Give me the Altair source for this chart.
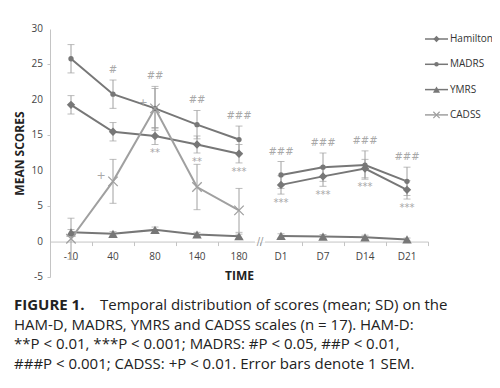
import altair as alt
import pandas as pd

# ---------------- data ----------------
categories = ["-10", "40", "80", "140", "180", "D1", "D7", "D14", "D21"]
segments = ["base", "base", "base", "base", "base", "days", "days", "days", "days"]
series_names = ["Hamilton", "MADRS", "YMRS", "CADSS"]
y_ticks = [-5, 0, 5, 10, 15, 20, 25, 30]

hamilton_mean = [19.3, 15.5, 14.9, 13.7, 12.4, 8.0, 9.2, 10.3, 7.3]
hamilton_sem = [1.3, 1.3, 1.2, 1.2, 1.3, 1.3, 1.4, 1.3, 1.3]
madrs_mean = [25.8, 20.8, 18.8, 16.5, 14.4, 9.4, 10.5, 10.8, 8.5]
madrs_sem = [2.0, 2.0, 3.1, 2.0, 1.9, 1.9, 2.0, 2.0, 2.0]
ymrs_mean = [1.3, 1.1, 1.65, 1.0, 0.75, 0.8, 0.7, 0.6, 0.3]
ymrs_sem = [0.4, 0.3, 0.4, 0.3, 0.3, 0.3, 0.3, 0.3, 0.2]
cadss_mean = [0.4, 8.5, 18.8, 7.7, 4.4]
cadss_sem = [2.9, 3.1, 2.8, 3.2, 3.1]

hamilton_sig = ["", "", "**", "**", "***", "***", "***", "***", "***"]
madrs_sig = ["", "#", "##", "##", "###", "###", "###", "###", "###"]
cadss_sig = ["", "+", "+", "", ""]

caption_head = "FIGURE 1."
caption_first = "Temporal distribution of scores (mean; SD) on the"
caption_lines = [
    "HAM-D, MADRS, YMRS and CADSS scales (n = 17). HAM-D:",
    "**P < 0.01, ***P < 0.001; MADRS: #P < 0.05, ##P < 0.01,",
    "###P < 0.001; CADSS: +P < 0.01. Error bars denote 1 SEM.",
]

# ---------------- build tables ----------------
rows = []
def add(name, means, sems, sigs):
    for i, (m, s) in enumerate(zip(means, sems)):
        rows.append(dict(series=name, idx=i, label=categories[i], seg=segments[i],
                         mean=m, lo=m - s, hi=m + s,
                         sig=(sigs[i] if sigs else "")))
add("Hamilton", hamilton_mean, hamilton_sem, hamilton_sig)
add("MADRS", madrs_mean, madrs_sem, madrs_sig)
add("YMRS", ymrs_mean, ymrs_sem, None)
add("CADSS", cadss_mean, cadss_sem, cadss_sig)
df = pd.DataFrame(rows)

n = len(categories)
cat_df = pd.DataFrame({"idx": list(range(n)), "label": categories, "zero": [0] * n})
ytick_df = pd.DataFrame({"v": y_ticks, "t": [str(v) for v in y_ticks]})

W, H = 378, 248
YMIN, YMAX = y_ticks[0], y_ticks[-1]
FONT = "Open Sans"
LINE_C = "#777777"
LIGHT_C = "#a0a0a0"
AXIS_C = "#c4c4c4"
SIG_C = "#a8a8a8"

xscale = alt.Scale(domain=[-0.5, n - 0.5], nice=False, zero=False)
yscale = alt.Scale(domain=[YMIN, YMAX], nice=False, zero=False)

x_axis = alt.Axis(
    values=[i - 0.5 for i in range(n + 1)], labels=False,
    offset=-H * (0 - YMIN) / (YMAX - YMIN),
    grid=False, domainColor=AXIS_C, tickColor=AXIS_C, tickSize=4,
    title="TIME", titleFont=FONT, titleFontSize=12, titleFontWeight="bold",
    titleColor="#222", titlePadding=24,
)
y_axis = alt.Axis(
    values=y_ticks, labels=False, grid=False,
    domainColor=AXIS_C, tickColor=AXIS_C, tickSize=3,
    title="MEAN SCORES", titleFont=FONT, titleFontSize=12, titleFontWeight="bold",
    titleColor="#222", titlePadding=20,
)

base = alt.Chart(df)
X = alt.X("idx:Q", scale=xscale, axis=x_axis)
Xn = alt.X("idx:Q", scale=xscale)
Y = alt.Y("mean:Q", scale=yscale)

color_scale = alt.Scale(domain=series_names, range=[LINE_C, LINE_C, LINE_C, LIGHT_C])

lines = base.mark_line(strokeWidth=2).encode(
    x=X, y=alt.Y("mean:Q", scale=yscale, axis=y_axis),
    color=alt.Color("series:N", scale=color_scale, legend=None),
    detail="seg:N",
)

# tick labels
xlabels = alt.Chart(cat_df).mark_text(font=FONT, fontSize=10, color="#444",
                                      baseline="middle", dy=15.5).encode(
    x=Xn, y=alt.Y("zero:Q", scale=yscale), text="label:N")
ylabels = alt.Chart(ytick_df).mark_text(font=FONT, fontSize=10, color="#444",
                                        align="right", baseline="middle").encode(
    x=alt.value(-7), y=alt.Y("v:Q", scale=yscale), text="t:N")

bars = base.mark_rule(color=LIGHT_C, strokeWidth=1).encode(
    x=Xn, y=alt.Y("lo:Q", scale=yscale), y2="hi:Q")
cap_lo = base.mark_tick(color=LIGHT_C, orient="horizontal", size=7, thickness=1).encode(
    x=Xn, y=alt.Y("lo:Q", scale=yscale))
cap_hi = base.mark_tick(color=LIGHT_C, orient="horizontal", size=7, thickness=1).encode(
    x=Xn, y=alt.Y("hi:Q", scale=yscale))

X_PATH = "M-1,-1L1,1M-1,1L1,-1"
pts_ham = base.transform_filter("datum.series == 'Hamilton'").mark_point(
    shape="diamond", filled=True, size=70, color=LINE_C, opacity=1).encode(x=Xn, y=Y)
pts_mad = base.transform_filter("datum.series == 'MADRS'").mark_point(
    shape="circle", filled=True, size=28, color=LINE_C, opacity=1).encode(x=Xn, y=Y)
pts_ymr = base.transform_filter("datum.series == 'YMRS'").mark_point(
    shape="triangle-up", filled=True, size=90, color=LINE_C, opacity=1).encode(x=Xn, y=Y)
pts_cad = base.transform_filter("datum.series == 'CADSS'").mark_point(
    shape=X_PATH, filled=False, size=90, strokeWidth=1.3,
    color=LIGHT_C, opacity=1).encode(x=Xn, y=Y)

sig_mad = base.transform_filter("datum.series == 'MADRS'").mark_text(
    font="DejaVu Sans", fontSize=10, color=SIG_C, dy=-10, baseline="middle").encode(
    x=Xn, y=alt.Y("hi:Q", scale=yscale), text="sig:N")
sig_ham = base.transform_filter("datum.series == 'Hamilton'").mark_text(
    font="DejaVu Sans", fontSize=10, color=SIG_C, dy=4, baseline="top").encode(
    x=Xn, y=alt.Y("lo:Q", scale=yscale), text="sig:N")
sig_cad = base.transform_filter("datum.series == 'CADSS'").mark_text(
    font="DejaVu Sans", fontSize=11, color=SIG_C, dx=-12, dy=-5).encode(
    x=Xn, y=Y, text="sig:N")

# axis break marker between the two segments
brk = pd.DataFrame({"pos": [segments.count("base") - 0.5], "v": [0]})
brk_bg = alt.Chart(brk).transform_calculate(
    a="datum.pos - 0.12", b="datum.pos + 0.12", v1="-0.15", v2="0.15").mark_rect(
    color="white").encode(x=alt.X("a:Q", scale=xscale), x2="b:Q",
                          y=alt.Y("v1:Q", scale=yscale), y2="v2:Q")
brk_txt = alt.Chart(brk).mark_text(text="//", font="DejaVu Sans", fontSize=10,
                                   color="#999", baseline="middle").encode(
    x=alt.X("pos:Q", scale=xscale), y=alt.Y("v:Q", scale=yscale))

# legend (drawn by hand at the upper right)
leg_df = pd.DataFrame({"series": series_names})
leg_shapes = {"Hamilton": ("diamond", 40, True), "MADRS": ("circle", 20, True),
              "YMRS": ("triangle-up", 50, True), "CADSS": (X_PATH, 40, False)}
leg_layers = []
for k, name in enumerate(series_names):
    yy = 10 + 25.3 * k
    col = LIGHT_C if name == "CADSS" else LINE_C
    one = alt.Chart(leg_df).transform_filter("datum.series == '%s'" % name)
    leg_layers.append(one.mark_rule(color=col, strokeWidth=1.5).encode(
        x=alt.value(375), x2=alt.value(398), y=alt.value(yy)))
    shp, sz, fl = leg_shapes[name]
    leg_layers.append(one.mark_point(shape=shp, size=sz, filled=fl, color=col, opacity=1,
                                     strokeWidth=1.2).encode(
        x=alt.value(386.5), y=alt.value(yy)))
    leg_layers.append(one.mark_text(font=FONT, fontSize=10, color="#333", align="left",
                                    baseline="middle").encode(
        x=alt.value(400), y=alt.value(yy), text="series:N"))

# caption
CAP_FS = 15
cap_layers = []
cap_layers.append(alt.Chart(pd.DataFrame({"t": [caption_head]})).mark_text(
    font=FONT, fontSize=CAP_FS, fontWeight="bold", color="#222", align="left",
    baseline="alphabetic").encode(text="t:N", x=alt.value(-36), y=alt.value(281)))
cap_layers.append(alt.Chart(pd.DataFrame({"t": [caption_first]})).mark_text(
    font=FONT, fontSize=CAP_FS, color="#222", align="left",
    baseline="alphabetic").encode(text="t:N", x=alt.value(50), y=alt.value(281)))
for k, line in enumerate(caption_lines):
    cap_layers.append(alt.Chart(pd.DataFrame({"t": [line]})).mark_text(
        font=FONT, fontSize=CAP_FS, color="#222", align="left",
        baseline="alphabetic").encode(text="t:N", x=alt.value(-36), y=alt.value(300.7 + 19.7 * k)))

chart = alt.layer(
    lines, brk_bg, brk_txt, xlabels, ylabels, bars, cap_lo, cap_hi,
    pts_ham, pts_mad, pts_ymr, pts_cad, sig_mad, sig_ham, sig_cad,
    *leg_layers, *cap_layers
).properties(
    width=W, height=H, autosize="none",
    padding={"left": 42, "top": 21, "right": 64, "bottom": 103},
).configure(font=FONT, background="white").configure_view(strokeWidth=0)

chart.save("out.html", embed_options={"renderer": "svg", "actions": False})
